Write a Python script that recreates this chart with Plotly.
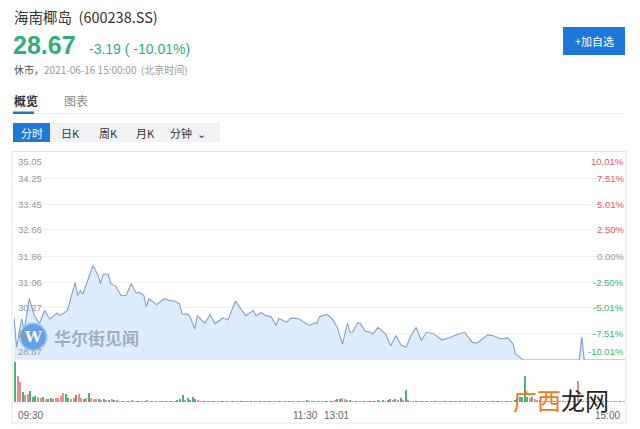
import plotly.graph_objects as go

# ---------------- data ----------------
price_idx = [0, 1, 3, 4, 6, 8, 10, 12, 14, 17, 18, 21, 24, 25, 26, 27, 31, 33, 34, 35, 37, 38, 40, 42, 44, 46,
             48, 49, 51, 52, 53, 56, 59, 61, 63, 65, 66, 68, 69, 71, 72, 75, 77, 79, 82, 84, 87, 88, 91, 94, 95,
             97, 99, 101, 103, 104, 107, 109, 112, 116, 118, 119, 120, 123, 125, 127, 129, 131, 132, 133, 135,
             136, 138, 140, 141, 143, 146, 148, 150, 152, 154, 156, 158, 160, 162, 165, 168, 171, 174, 177, 180,
             182, 186, 188, 191, 194, 196, 197, 200, 222, 223, 224, 240]
price_val = [29.98, 29.06, 29.93, 29.57, 30.55, 30.03, 29.79, 30.19, 29.93, 30.11, 30.03, 30.19, 31.04, 30.65,
             30.80, 30.68, 31.57, 31.27, 31.01, 31.30, 31.30, 31.01, 30.93, 30.65, 30.65, 31.01, 30.72, 30.75,
             30.65, 30.31, 30.55, 30.37, 30.55, 30.50, 30.48, 30.39, 30.09, 30.07, 30.03, 29.63, 30.03, 29.80,
             30.06, 29.78, 29.96, 29.90, 30.48, 30.37, 30.03, 30.19, 30.03, 30.12, 30.03, 30.00, 29.73, 29.95,
             29.83, 29.96, 29.93, 29.73, 29.80, 29.80, 30.00, 30.07, 29.93, 29.67, 29.16, 29.80, 29.52, 29.52,
             29.81, 29.80, 29.55, 29.52, 29.47, 29.67, 29.47, 29.11, 29.42, 29.13, 29.06, 29.42, 29.67, 29.27,
             29.52, 29.47, 29.29, 29.35, 29.45, 29.52, 29.21, 29.19, 29.44, 29.42, 29.32, 29.35, 29.16, 28.86,
             28.67, 28.67, 29.37, 28.67, 28.67]

price_ticks = [35.05, 34.25, 33.45, 32.66, 31.86, 31.06, 30.27, 29.47, 28.67]
pct_ticks = ["10.01%", "7.51%", "5.01%", "2.50%", "0.00%", "-2.50%", "-5.01%", "-7.51%", "-10.01%"]

volume = [40, 26, 20, 10, 7, 8, 11, 5, 6, 5,
          4, 5, 3, 3, 4, 3, 4, 4, 6, 9,
          8, 4, 3, 4, 7, 8, 4, 3, 4, 9,
          4, 3, 3, 3, 2, 3, 2, 2, 3, 2,
          2, 1, 1, 1, 1, 1, 2, 1, 1, 1,
          1, 1, 2, 1, 1, 1, 1, 1, 1, 1,
          1, 1, 1, 1, 2, 3, 7, 2, 4, 2,
          5, 3, 2, 1, 1, 1, 1, 1, 1, 1,
          1, 1, 1, 1, 1, 1, 1, 1, 1, 1,
          1, 1, 1, 1, 1, 1, 1, 1, 1, 1,
          1, 1, 1, 1, 1, 1, 1, 1, 1, 1,
          1, 1, 1, 1, 1, 2, 1, 1, 1, 1,
          1,
          1, 1, 1, 1, 1, 2, 3, 3, 4, 3,
          2, 2, 1, 1, 1, 1, 1, 1, 1, 1,
          1, 1, 2, 1, 2, 1, 2, 3, 2, 3,
          2, 4, 2, 12, 2, 1, 1, 1, 1, 1,
          1, 1, 1, 1, 1, 1, 1, 1, 1, 1,
          1, 1, 1, 1, 1, 1, 1, 1, 1, 1,
          1, 1, 1, 1, 1, 1, 1, 1, 1, 1,
          1, 1, 1, 1, 1, 1, 2, 4, 5, 5,
          26, 5, 4, 5, 3, 2, 2, 1, 1, 1,
          1, 1, 1, 1, 1, 1, 1, 1, 1, 1,
          1, 21, 2, 1, 1, 1, 1, 1, 1, 1,
          1, 1, 1, 1, 1, 1, 1, 1, 1, 1]
volume_dir = ("GRRGRRGGGR" "RGRGGRRRRR" "GGRRGRRGRG" "RRRGRGRGRG"
              "RRGRRGRRRG" "RRRRGRRRGR" "RGRRGGGRGG" "GGRRRGRRGR"
              "RRGRRRGRRG" "RRRGRRGRRR" "GRRRGRRRGR" "RRGRRGRRGR"
              "R"
              "RGRRGRGGRR" "RGRRGRGRRG" "RGGRGRGGRG" "RGRGRRRGRR"
              "RGRRRGRRGR" "RGRRGRRGRR" "GRRGRRRGRR" "GRRGRRGGGG"
              "GGRGRRGRRG" "RRGRRRRGRR" "RRRRRRRRRR" "RRRRRRRRRR")
time_labels = ["09:30", "11:30", "13:01", "15:00"]
time_label_idx = [0, 120, 121, 240]

# ---------------- helpers ----------------
W, H = 640, 429
def px(x):
    return x / W
def py(y):
    return 1 - y / H

FONT = "Arial, Liberation Sans, Noto Sans CJK SC, sans-serif"
CJK = "Microsoft YaHei, Noto Sans CJK SC, sans-serif"
UP = "#e8595c"
DOWN = "#3db374"

vol_x = list(range(len(volume)))
vol_colors = ["#f08a8c" if d == "R" else "#4cb679" for d in volume_dir[:len(volume)]]

fig = go.Figure()
fig.add_trace(go.Scatter(x=price_idx, y=price_val, mode="lines",
                         line=dict(color="#7fa2cc", width=1.1),
                         fill="tozeroy", fillcolor="#deedfc",
                         hoverinfo="skip", xaxis="x", yaxis="y"))
fig.add_trace(go.Bar(x=vol_x, y=volume, marker=dict(color=vol_colors, line=dict(width=0)),
                     width=0.45, hoverinfo="skip", xaxis="x2", yaxis="y2"))

xdom = [px(14), px(625)]
fig.update_layout(
    width=W, height=H, margin=dict(l=0, r=0, t=0, b=0),
    paper_bgcolor="white", plot_bgcolor="rgba(0,0,0,0)", showlegend=False,
    xaxis=dict(domain=xdom, range=[0, 240], visible=False, fixedrange=True),
    yaxis=dict(domain=[py(360), py(152)], range=[28.67, 35.05], tickvals=price_ticks,
               showticklabels=False, showgrid=True, gridcolor="#f0f0f0", gridwidth=1,
               zeroline=False, showline=False, ticks=""),
    xaxis2=dict(domain=xdom, range=[-0.5, 240.5], visible=False, anchor="y2"),
    yaxis2=dict(domain=[py(402), py(361)], range=[0, 41], visible=False, anchor="x2"),
    bargap=0,
)

shapes = []
ann = []

def text(x, y, s, size, color, xanchor="left", yanchor="middle", family=FONT, **kw):
    ann.append(dict(x=px(x), y=py(y), xref="paper", yref="paper", text=s, showarrow=False,
                    xanchor=xanchor, yanchor=yanchor, font=dict(size=size, color=color, family=family), **kw))

def rect(x0, y0, x1, y1, fill, line=None):
    shapes.append(dict(type="rect", xref="paper", yref="paper", x0=px(x0), x1=px(x1), y0=py(y1), y1=py(y0),
                       fillcolor=fill, line=dict(width=1 if line else 0, color=line or fill), layer="below"))

# header
text(12, 17, "海南椰岛  (600238.SS)", 14.5, "#333333", family=CJK)
text(11, 45, "<b>28.67</b>", 25, "#2eaf7b")
text(87, 48.5, "-3.19 ( -10.01%)", 14, "#2eaf7b")
text(12, 69, "休市，<span style='color:#999999'>2021-06-16 15:00:00  (北京时间)</span>", 10, "#555555", family=CJK)
rect(563, 27, 625, 55, "#1e78d7")
text(594, 41, "+加自选", 11, "white", xanchor="center", family=CJK)

# tabs
text(12, 100, "<b>概览</b>", 12, "#333333", family=CJK)
text(62, 100, "图表", 12, "#888888", family=CJK)
rect(13, 113, 623, 114, "#eeeeee")
rect(13, 111.5, 34, 114, "#1e78d7")

# period buttons
rect(13, 123, 220, 142, "#f0f2f5")
rect(13, 123, 50, 142, "#1e78d7")
text(31.5, 132.5, "分时", 11, "white", xanchor="center", family=CJK)
for lbl, cx in [("日K", 70), ("周K", 108), ("月K", 145), ("分钟  ⌄", 188)]:
    text(cx, 132.5, lbl, 11, "#333333", xanchor="center", family=CJK)

# chart frame
shapes.append(dict(type="rect", xref="paper", yref="paper", x0=px(12), x1=px(626), y0=py(423), y1=py(151.5),
                   line=dict(color="#e6e6e6", width=1), fillcolor="rgba(0,0,0,0)", layer="below"))

# axis labels (price left, percent right)
n = len(price_ticks)
for i, (p, s) in enumerate(zip(price_ticks, pct_ticks)):
    if i == 0:
        ya, ys = "top", -2
    elif i == n - 1:
        ya, ys = "bottom", 1
    else:
        ya, ys = "middle", 0
    ann.append(dict(x=px(16), y=p, xref="paper", yref="y", text=f"{p:.2f}", showarrow=False,
                    xanchor="left", yanchor=ya, yshift=ys, font=dict(size=9.5, color="#999999", family=FONT)))
    col = UP if not s.startswith(("-", "0.00")) else ("#999999" if s.startswith("0.00") else DOWN)
    ann.append(dict(x=px(626), y=p, xref="paper", yref="y", text=s, showarrow=False,
                    xanchor="right", yanchor=ya, yshift=ys, font=dict(size=9.5, color=col, family=FONT)))

# time labels
anchors = ["left", "right", "left", "right"]
for lbl, idx, a in zip(time_labels, time_label_idx, anchors):
    ann.append(dict(x=idx, y=py(415), xref="x", yref="paper", text=lbl, showarrow=False,
                    xanchor=a, yanchor="middle", xshift=(2 if idx == 0 else (-3 if idx == 240 else 0)),
                    font=dict(size=10, color="#666666", family=FONT)))

# watermarks
shapes.append(dict(type="circle", xref="paper", yref="paper", x0=px(20), x1=px(46.5), y0=py(350), y1=py(323.5),
                   fillcolor="rgba(70,140,225,0.8)", line=dict(color="rgba(150,190,240,0.8)", width=2)))
text(33.3, 337, "<b>W</b>", 15, "rgba(255,255,255,0.95)", xanchor="center", family="DejaVu Serif, serif")
text(52, 337.5, "<b>华尔街见闻</b>", 17, "rgba(110,120,135,0.55)", family=CJK)
text(511, 399, "<span style='color:#ec7a22'>广西</span>龙网", 24, "#222222", family=CJK)

fig.update_layout(shapes=shapes, annotations=ann)
fig.write_html("out.html")
